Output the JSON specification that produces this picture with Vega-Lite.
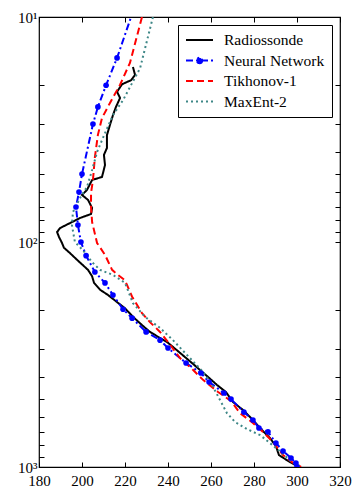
{
  "$schema": "https://vega.github.io/schema/vega-lite/v6.json",
  "autosize": {"type": "none"},
  "padding": {"left": 39, "top": 17, "right": 12, "bottom": 26},
  "width": 301,
  "height": 450,
  "background": "white",
  "config": {
    "font": "Liberation Serif",
    "view": {"stroke": "black", "strokeWidth": 1.2},
    "axis": {"grid": false, "domain": false, "tickColor": "black", "tickSize": -5, "tickWidth": 1, "labelColor": "black", "labelFont": "Liberation Serif", "labelFontSize": 15, "labelFlush": false, "labelOverlap": false, "title": null}
  },
  "datasets": {
    "profiles": [
      {"s": "Radiossonde", "T": 223.7, "p": 16.7}, {"s": "Radiossonde", "T": 224.7, "p": 18.1}, {"s": "Radiossonde", "T": 222.8, "p": 19.1}, {"s": "Radiossonde", "T": 218.6, "p": 19.9}, {"s": "Radiossonde", "T": 216.3, "p": 21.5}, {"s": "Radiossonde", "T": 217.7, "p": 22.9}, {"s": "Radiossonde", "T": 215.8, "p": 25.1}, {"s": "Radiossonde", "T": 214.4, "p": 27.3}, {"s": "Radiossonde", "T": 213.0, "p": 30.2}, {"s": "Radiossonde", "T": 211.6, "p": 33.5}, {"s": "Radiossonde", "T": 211.6, "p": 38.2}, {"s": "Radiossonde", "T": 210.2, "p": 41.0}, {"s": "Radiossonde", "T": 210.7, "p": 45.5}, {"s": "Radiossonde", "T": 209.3, "p": 51.4}, {"s": "Radiossonde", "T": 204.7, "p": 53.0}, {"s": "Radiossonde", "T": 202.3, "p": 58.7}, {"s": "Radiossonde", "T": 200.0, "p": 61.8}, {"s": "Radiossonde", "T": 202.8, "p": 65.0}, {"s": "Radiossonde", "T": 204.7, "p": 70.6}, {"s": "Radiossonde", "T": 204.2, "p": 75.1}, {"s": "Radiossonde", "T": 199.1, "p": 78.2}, {"s": "Radiossonde", "T": 194.4, "p": 82.4}, {"s": "Radiossonde", "T": 189.8, "p": 86.7}, {"s": "Radiossonde", "T": 188.4, "p": 90.3}, {"s": "Radiossonde", "T": 189.3, "p": 95.0}, {"s": "Radiossonde", "T": 190.7, "p": 101}, {"s": "Radiossonde", "T": 191.6, "p": 106}, {"s": "Radiossonde", "T": 194.4, "p": 112}, {"s": "Radiossonde", "T": 197.7, "p": 120}, {"s": "Radiossonde", "T": 200.5, "p": 127}, {"s": "Radiossonde", "T": 202.8, "p": 133}, {"s": "Radiossonde", "T": 204.7, "p": 142}, {"s": "Radiossonde", "T": 205.6, "p": 152}, {"s": "Radiossonde", "T": 208.4, "p": 163}, {"s": "Radiossonde", "T": 212.1, "p": 172}, {"s": "Radiossonde", "T": 216.3, "p": 185}, {"s": "Radiossonde", "T": 220.0, "p": 197}, {"s": "Radiossonde", "T": 223.7, "p": 215}, {"s": "Radiossonde", "T": 227.9, "p": 234}, {"s": "Radiossonde", "T": 231.6, "p": 251}, {"s": "Radiossonde", "T": 236.3, "p": 267}, {"s": "Radiossonde", "T": 239.5, "p": 278}, {"s": "Radiossonde", "T": 245.6, "p": 311}, {"s": "Radiossonde", "T": 251.6, "p": 348}, {"s": "Radiossonde", "T": 258.1, "p": 394}, {"s": "Radiossonde", "T": 262.8, "p": 432}, {"s": "Radiossonde", "T": 267.0, "p": 465}, {"s": "Radiossonde", "T": 270.2, "p": 514}, {"s": "Radiossonde", "T": 274.9, "p": 558}, {"s": "Radiossonde", "T": 279.5, "p": 618}, {"s": "Radiossonde", "T": 283.7, "p": 685}, {"s": "Radiossonde", "T": 287.4, "p": 743}, {"s": "Radiossonde", "T": 290.2, "p": 807}, {"s": "Radiossonde", "T": 291.6, "p": 885}, {"s": "Radiossonde", "T": 296.7, "p": 951}, {"s": "Radiossonde", "T": 300.9, "p": 1000},
      {"s": "Neural Network", "T": 226.3, "p": 8}, {"s": "Neural Network", "T": 216.3, "p": 15.2}, {"s": "Neural Network", "T": 211.2, "p": 20.1}, {"s": "Neural Network", "T": 207.4, "p": 25.1}, {"s": "Neural Network", "T": 205.1, "p": 29.9}, {"s": "Neural Network", "T": 200.0, "p": 49.9}, {"s": "Neural Network", "T": 198.6, "p": 60}, {"s": "Neural Network", "T": 197.2, "p": 69.9}, {"s": "Neural Network", "T": 198.1, "p": 84}, {"s": "Neural Network", "T": 199.5, "p": 100}, {"s": "Neural Network", "T": 201.9, "p": 115}, {"s": "Neural Network", "T": 206.0, "p": 136}, {"s": "Neural Network", "T": 210.7, "p": 152}, {"s": "Neural Network", "T": 214.4, "p": 172}, {"s": "Neural Network", "T": 219.1, "p": 199}, {"s": "Neural Network", "T": 223.3, "p": 218}, {"s": "Neural Network", "T": 229.8, "p": 251}, {"s": "Neural Network", "T": 236.3, "p": 273}, {"s": "Neural Network", "T": 240.0, "p": 296}, {"s": "Neural Network", "T": 248.4, "p": 345}, {"s": "Neural Network", "T": 255.3, "p": 382}, {"s": "Neural Network", "T": 259.1, "p": 419}, {"s": "Neural Network", "T": 266.0, "p": 469}, {"s": "Neural Network", "T": 269.3, "p": 499}, {"s": "Neural Network", "T": 275.3, "p": 570}, {"s": "Neural Network", "T": 279.5, "p": 618}, {"s": "Neural Network", "T": 282.3, "p": 671}, {"s": "Neural Network", "T": 286.5, "p": 698}, {"s": "Neural Network", "T": 290.2, "p": 782}, {"s": "Neural Network", "T": 293.5, "p": 849}, {"s": "Neural Network", "T": 297.2, "p": 912}, {"s": "Neural Network", "T": 299.5, "p": 960}, {"s": "Neural Network", "T": 300.0, "p": 1000},
      {"s": "Tikhonov-1", "T": 227.9, "p": 10}, {"s": "Tikhonov-1", "T": 222.3, "p": 16.0}, {"s": "Tikhonov-1", "T": 217.7, "p": 20.0}, {"s": "Tikhonov-1", "T": 213.0, "p": 24.1}, {"s": "Tikhonov-1", "T": 209.3, "p": 28.1}, {"s": "Tikhonov-1", "T": 207.4, "p": 33.4}, {"s": "Tikhonov-1", "T": 206.0, "p": 41.9}, {"s": "Tikhonov-1", "T": 205.1, "p": 53.0}, {"s": "Tikhonov-1", "T": 204.2, "p": 60.5}, {"s": "Tikhonov-1", "T": 204.2, "p": 69.9}, {"s": "Tikhonov-1", "T": 204.7, "p": 81.5}, {"s": "Tikhonov-1", "T": 207.0, "p": 101}, {"s": "Tikhonov-1", "T": 210.7, "p": 114}, {"s": "Tikhonov-1", "T": 214.0, "p": 133}, {"s": "Tikhonov-1", "T": 216.7, "p": 140}, {"s": "Tikhonov-1", "T": 220.0, "p": 148}, {"s": "Tikhonov-1", "T": 223.3, "p": 175}, {"s": "Tikhonov-1", "T": 227.9, "p": 207}, {"s": "Tikhonov-1", "T": 231.6, "p": 227}, {"s": "Tikhonov-1", "T": 236.3, "p": 251}, {"s": "Tikhonov-1", "T": 240.0, "p": 278}, {"s": "Tikhonov-1", "T": 245.6, "p": 328}, {"s": "Tikhonov-1", "T": 251.6, "p": 370}, {"s": "Tikhonov-1", "T": 256.3, "p": 410}, {"s": "Tikhonov-1", "T": 263.3, "p": 464}, {"s": "Tikhonov-1", "T": 269.3, "p": 509}, {"s": "Tikhonov-1", "T": 273.5, "p": 576}, {"s": "Tikhonov-1", "T": 279.5, "p": 637}, {"s": "Tikhonov-1", "T": 284.7, "p": 706}, {"s": "Tikhonov-1", "T": 288.8, "p": 774}, {"s": "Tikhonov-1", "T": 293.5, "p": 885}, {"s": "Tikhonov-1", "T": 297.7, "p": 951}, {"s": "Tikhonov-1", "T": 301.9, "p": 1000},
      {"s": "MaxEnt-2", "T": 233.0, "p": 10}, {"s": "MaxEnt-2", "T": 227.0, "p": 16.9}, {"s": "MaxEnt-2", "T": 222.3, "p": 20.5}, {"s": "MaxEnt-2", "T": 219.1, "p": 23.4}, {"s": "MaxEnt-2", "T": 214.4, "p": 27.3}, {"s": "MaxEnt-2", "T": 210.7, "p": 32.8}, {"s": "MaxEnt-2", "T": 207.0, "p": 39.8}, {"s": "MaxEnt-2", "T": 204.7, "p": 47.9}, {"s": "MaxEnt-2", "T": 202.3, "p": 57.0}, {"s": "MaxEnt-2", "T": 199.1, "p": 63.7}, {"s": "MaxEnt-2", "T": 195.8, "p": 73.6}, {"s": "MaxEnt-2", "T": 195.3, "p": 84.0}, {"s": "MaxEnt-2", "T": 196.7, "p": 100}, {"s": "MaxEnt-2", "T": 200.5, "p": 109}, {"s": "MaxEnt-2", "T": 204.7, "p": 123}, {"s": "MaxEnt-2", "T": 208.4, "p": 133}, {"s": "MaxEnt-2", "T": 214.4, "p": 140}, {"s": "MaxEnt-2", "T": 220.0, "p": 152}, {"s": "MaxEnt-2", "T": 223.7, "p": 187}, {"s": "MaxEnt-2", "T": 229.3, "p": 215}, {"s": "MaxEnt-2", "T": 236.3, "p": 241}, {"s": "MaxEnt-2", "T": 242.3, "p": 273}, {"s": "MaxEnt-2", "T": 250.2, "p": 328}, {"s": "MaxEnt-2", "T": 256.3, "p": 378}, {"s": "MaxEnt-2", "T": 260.5, "p": 432}, {"s": "MaxEnt-2", "T": 264.2, "p": 504}, {"s": "MaxEnt-2", "T": 267.4, "p": 576}, {"s": "MaxEnt-2", "T": 271.2, "p": 631}, {"s": "MaxEnt-2", "T": 276.7, "p": 678}, {"s": "MaxEnt-2", "T": 282.8, "p": 721}, {"s": "MaxEnt-2", "T": 287.4, "p": 782}, {"s": "MaxEnt-2", "T": 293.0, "p": 867}, {"s": "MaxEnt-2", "T": 297.7, "p": 951}, {"s": "MaxEnt-2", "T": 302.3, "p": 1000}
    ]
  },
  "data": {"name": "profiles"},
  "resolve": {"axis": {"x": "independent", "y": "independent"}},
  "layer": [
    {
      "mark": {"type": "line", "clip": true, "strokeWidth": 2},
      "encoding": {
        "x": {"field": "T", "type": "quantitative", "scale": {"domain": [180, 320], "nice": false, "zero": false},
              "axis": {"orient": "bottom", "values": [180, 200, 220, 240, 260, 280, 300, 320], "labelPadding": 11}},
        "y": {"field": "p", "type": "quantitative", "scale": {"type": "log", "domain": [10, 1000], "reverse": true, "nice": false},
              "axis": {"orient": "left", "values": [10, 20, 30, 40, 50, 60, 70, 80, 90, 100, 200, 300, 400, 500, 600, 700, 800, 900, 1000], "labelPadding": 7,
                       "labelExpr": "datum.value == 10 ? '10¹' : datum.value == 100 ? '10²' : datum.value == 1000 ? '10³' : ''"}},
        "order": {"field": "p", "type": "quantitative"},
        "color": {"field": "s", "type": "nominal",
                  "scale": {"domain": ["Radiossonde", "Neural Network", "Tikhonov-1", "MaxEnt-2"], "range": ["#000000", "#0000ff", "#ff0000", "#3e8787"]},
                  "legend": {"title": null, "orient": "top-right", "offset": 8, "padding": 7, "strokeColor": "black", "fillColor": "white",
                             "symbolType": "stroke", "symbolSize": 729, "symbolStrokeWidth": 2, "labelFont": "Liberation Serif", "labelFontSize": 15.5,
                             "labelColor": "black", "rowPadding": 3.5, "clipHeight": 16, "labelOffset": 10, "cornerRadius": 0,
                             "encode": {"symbols": {"update": {
                               "shape": {"signal": "datum.label === 'Neural Network' ? 'M-1,0H1M0.2,0A0.2,0.2,0,1,1,-0.2,0A0.2,0.2,0,1,1,0.2,0' : 'stroke'"},
                               "fill": {"signal": "datum.label === 'Neural Network' ? '#0000ff' : 'transparent'"}}}}}},
        "strokeDash": {"field": "s", "type": "nominal",
                       "scale": {"domain": ["Radiossonde", "Neural Network", "Tikhonov-1", "MaxEnt-2"], "range": [[1, 0], [7, 3, 2, 3], [7, 4], [2, 3]]},
                       "legend": {"title": null}}
      }
    },
    {
      "transform": [{"filter": "datum.s === 'Neural Network'"}],
      "mark": {"type": "circle", "clip": true, "size": 32, "color": "#0000ff", "opacity": 1},
      "encoding": {
        "x": {"field": "T", "type": "quantitative",
              "axis": {"orient": "top", "values": [180, 200, 220, 240, 260, 280, 300, 320], "labels": false}},
        "y": {"field": "p", "type": "quantitative",
              "axis": {"orient": "right", "values": [10, 20, 30, 40, 50, 60, 70, 80, 90, 100, 200, 300, 400, 500, 600, 700, 800, 900, 1000], "labels": false}}
      }
    }
  ]
}
